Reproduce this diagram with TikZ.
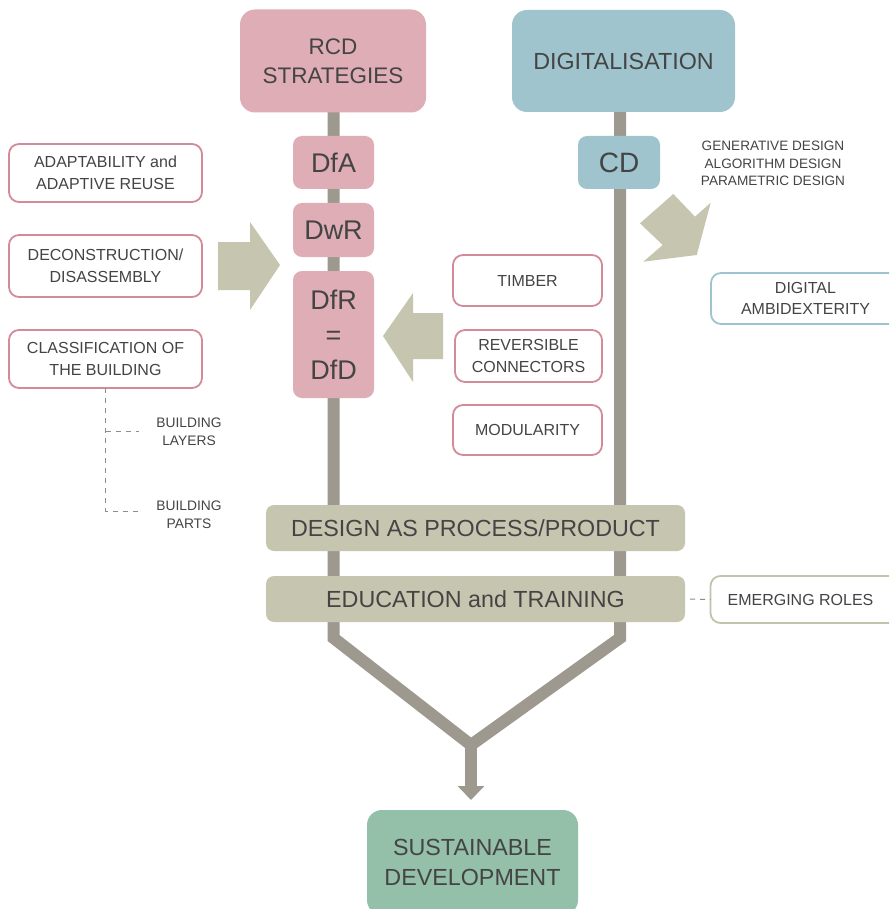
\documentclass[tikz,border=0pt]{standalone}
\usepackage{fontspec}
\setmainfont{Liberation Sans}
\usetikzlibrary{arrows.meta}
\definecolor{pinkfill}{HTML}{DFADB5}
\definecolor{bluefill}{HTML}{9FC4CD}
\definecolor{olive}{HTML}{C6C5B0}
\definecolor{barcol}{HTML}{9D998F}
\definecolor{greenfill}{HTML}{94BFA9}
\definecolor{pinkline}{HTML}{D28B98}
\definecolor{oliveline}{HTML}{C3C3AC}
\definecolor{txt}{HTML}{444444}
\definecolor{dashcol}{HTML}{8C8C8C}
\newcommand{\fs}[2]{\fontsize{#1}{#2}\selectfont}
\begin{document}
\begin{tikzpicture}[x=1pt,y=-1pt,
  base/.style={text=txt, align=center, inner sep=0pt, outer sep=0pt},
  bigbox/.style={base, rounded corners=15pt},
  smallbox/.style={base, fill=pinkfill, rounded corners=9pt, minimum width=81pt, font=\fs{27}{35}},
  pinkbox/.style={base, draw=pinkline, line width=1.8pt, fill=white, rounded corners=10pt, font=\fs{16}{21.5}},
  band/.style={base, fill=olive, rounded corners=8pt, minimum width=419pt, minimum height=46pt, font=\fs{23.3}{28}},
  bar/.style={draw=barcol, line width=12pt},
  fatarrow/.style={fill=olive, draw=none},
  dashline/.style={draw=dashcol, line width=1pt, dash pattern=on 5pt off 5pt},
  plain/.style={base, font=\fs{13.6}{17.5}}
]
\path[use as bounding box, clip] (0,0) rectangle (889,909);
\fill[white] (0,0) rectangle (889,909);

% coordinates of the main channels
\coordinate (lb) at (333.5,638);
\coordinate (rb) at (620,638);
\coordinate (vt) at (471,745);
\coordinate (lt) at (333.5,112);
\coordinate (rt) at (620,112);

% bars
\draw[bar] (lt) -- (lb) -- (vt) -- (rb) -- (rt);

% top boxes
\node[bigbox, fill=pinkfill, minimum width=186pt, minimum height=103pt, font=\fs{22.5}{29}] (rcd) at (333,61) {RCD\\STRATEGIES};
\node[bigbox, fill=bluefill, minimum width=223pt, minimum height=102pt, font=\fs{23.3}{28}] (dig) at (623.5,61) {DIGITALISATION};

% RCD sub boxes
\node[smallbox, minimum height=53pt] (dfa) at (333.5,162.5) {DfA};
\node[smallbox, minimum height=54pt] (dwr) at (333.5,230) {DwR};
\node[smallbox, minimum height=127pt] (dfr) at (333.5,334.5) {DfR\\=\\DfD};
\node[smallbox, fill=bluefill, minimum width=82pt, minimum height=53pt, font=\fs{28}{34}] (cd) at (619,162.5) {CD};

% left boxes
\node[pinkbox, minimum width=193pt, minimum height=58pt] (adapt) at (105.5,173) {ADAPTABILITY and\\ADAPTIVE REUSE};
\node[pinkbox, minimum width=193pt, minimum height=62pt] (decon) at (105.5,266) {DECONSTRUCTION/\\DISASSEMBLY};
\node[pinkbox, minimum width=193pt, minimum height=58pt] (class) at (105.5,359) {CLASSIFICATION OF\\THE BUILDING};

% building layers / parts
\node[plain, font=\fs{13.8}{18}] (layers) at (189,431.5) {BUILDING\\LAYERS};
\node[plain, font=\fs{13.8}{18}] (parts) at (189,515) {BUILDING\\PARTS};
\coordinate (tl) at (105.5,431);
\coordinate (tp) at (105.5,511);
\draw[dashline] (class.south -| tl) -- (tp) -- (139,511);
\draw[dashline] (tl) -- (139,431);

% middle boxes
\node[pinkbox, minimum width=149pt, minimum height=51pt] (timber) at (527.5,280.5) {TIMBER};
\node[pinkbox, minimum width=147pt, minimum height=52pt] (rev) at (528.5,356) {REVERSIBLE\\CONNECTORS};
\node[pinkbox, minimum width=149pt, minimum height=50pt] (mod) at (527.5,430) {MODULARITY};

% right side
\node[plain] (gen) at (773,163.5) {GENERATIVE DESIGN\\ALGORITHM DESIGN\\PARAMETRIC DESIGN};
\node[pinkbox, draw=bluefill, minimum width=189pt, minimum height=51pt] (amb) at (805.5,298.5) {DIGITAL\\AMBIDEXTERITY};

% fat arrows
\fill[fatarrow] (218,242) -- (250,242) -- (250,222) -- (280,265) -- (250,310) -- (250,290) -- (218,290) -- cycle;
\fill[fatarrow] (443,313) -- (413,313) -- (413,293) -- (383,336) -- (413,382) -- (413,359) -- (443,359) -- cycle;
\fill[fatarrow] (673.3,194) -- (695,216.7) -- (710.7,202.7) -- (696.7,255) -- (643.3,261.7) -- (662.7,245) -- (640,223.3) -- cycle;

% bands
\node[band] (design) at (475.5,528) {DESIGN AS PROCESS/PRODUCT};
\node[band] (edu) at (475.5,599) {EDUCATION and TRAINING};
\node[pinkbox, draw=oliveline, minimum width=190pt, minimum height=47pt] (emr) at (805.5,599.5) {\hspace*{-10pt}EMERGING ROLES};
\draw[dashline] (edu.east) ++(5,0) -- (emr.west);

% final
\node[bigbox, fill=greenfill, minimum width=211pt, minimum height=105pt, font=\fs{23.3}{30}] (sd) at (472.5,862.5) {SUSTAINABLE\\DEVELOPMENT};
\draw[bar, -{Triangle[width=26pt,length=14pt]}, shorten >=10pt] (vt) -- (sd.north -| vt);
\end{tikzpicture}
\end{document}
